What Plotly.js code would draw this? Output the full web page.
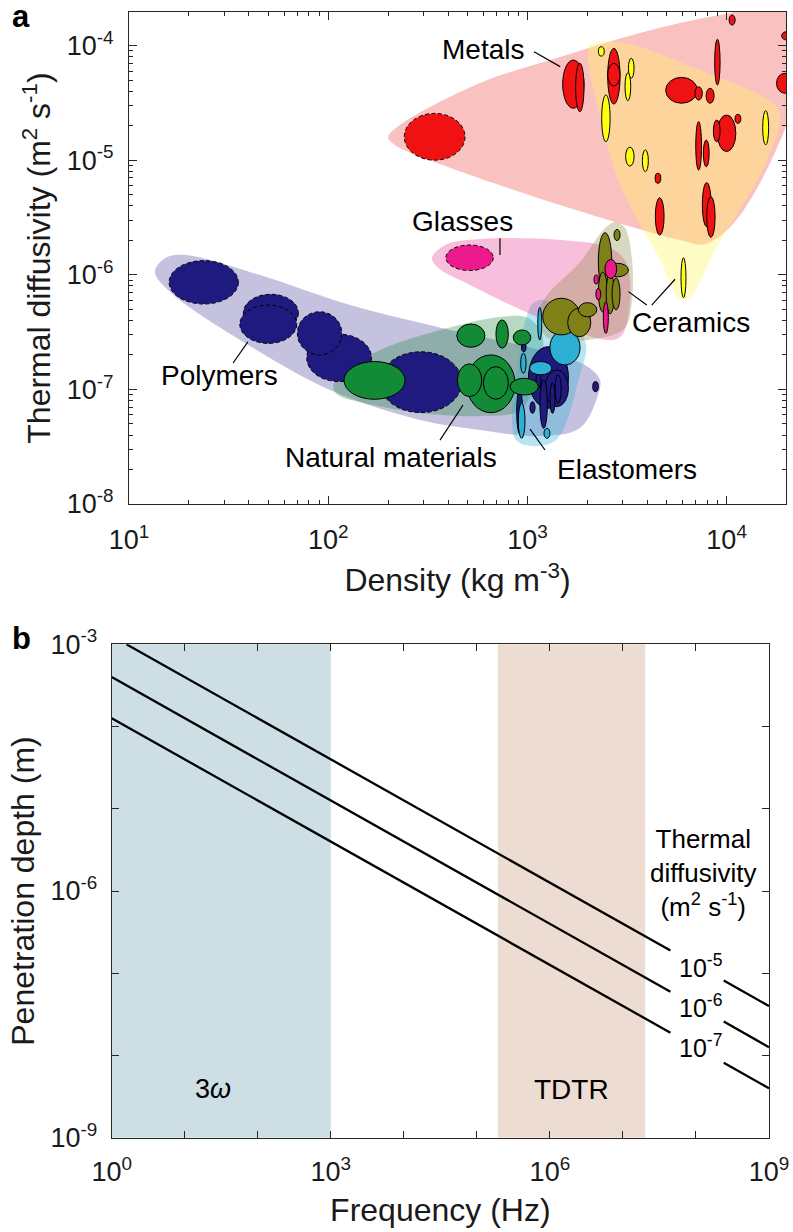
<!DOCTYPE html>
<html>
<head>
<meta charset="utf-8">
<script src="https://cdn.plot.ly/plotly-3.0.1.min.js"></script>
<style>html,body{margin:0;padding:0;background:#fff;}</style>
</head>
<body>
<div id="chart" style="width:793px;height:1232px;"></div>
<script>
// ---------- Panel a: thermal diffusivity vs density (material property ranges) ----------
// Each ellipse spans [low, high] density (kg m^-3) and [low, high] diffusivity (m^2 s^-1).

const polymerRho   = [[15.9,35.4],[37.5,70.8],[36,69.5],[78,165],[70,117],[182,468],
                      [1012,1607],[1225,1607],[2128,2270],[1156,1259],[883,946],[935,984],
                      [1030,1092],[1104,1170],[1297,1377],[1377,1476]];
const polymerAlpha = [[5.56e-7,1.33e-6],[3.19e-7,6.76e-7],[2.52e-7,5.44e-7],[1.17e-7,3.03e-7],[2.0e-7,4.76e-7],[6.27e-8,2.13e-7],
                      [6.84e-8,2.36e-7],[7.06e-8,1.48e-7],[9.55e-8,1.17e-7],[4.58e-8,1.21e-7],[4.14e-8,9.89e-8],[2.13e-7,2.56e-7],
                      [6.18e-8,7.82e-8],[1.03e-7,1.42e-7],[6.18e-8,1.14e-7],[7.6e-8,1.34e-7]];
const polymerFoam  = [true,true,true,true,true,true,false,false,false,false,false,false,false,false,false,false];

const naturalRho   = [[120,243],[442,612],[695,802],[849,1040],[495,867],[445,590],[601,802],[818,1135]];
const naturalAlpha = [[8.2e-8,1.75e-7],[2.33e-7,3.72e-7],[2.29e-7,4.04e-7],[2.44e-7,3.3e-7],[6.27e-8,2.0e-7],[8.65e-8,1.67e-7],[8.2e-8,1.58e-7],[8.93e-8,1.25e-7]];

const elastomerRho   = [[1297,1837],[1127,1180],[925,984],[1024,1325],[900,972],[1211,1297]];
const elastomerAlpha = [[1.63e-7,3.3e-7],[2.7e-7,5.2e-7],[1.38e-7,2.07e-7],[1.34e-7,1.75e-7],[3.74e-8,7.57e-8],[3.74e-8,4.58e-8]];

const techCeramicRho   = [[2270,2650],[2722,2917],[2500,3214],[2270,2518],[2483,2729],[2660,2917],[1194,1837],[1592,2080],[1803,2230]];
const techCeramicAlpha = [[7.26e-7,2.33e-6],[1.99e-6,2.49e-6],[9.6e-7,1.26e-6],[4.73e-7,1.06e-6],[4.55e-7,1.02e-6],[4.93e-7,9.4e-7],[2.99e-7,6.24e-7],[2.88e-7,5.11e-7],[4.3e-7,5.71e-7]];

const glassRho   = [[390,674],[2450,2806],[2160,2270],[2207,2333],[2404,2548]];
const glassAlpha = [[1.09e-6,1.82e-6],[9.3e-7,1.36e-6],[8.3e-7,9.95e-7],[6.03e-7,7.62e-7],[3.08e-7,5.82e-7]];
const glassFoam  = [true,false,false,false,false];

const metalRho   = [[241,486],[1503,1923],[1746,1923],[2529,2917],[2529,2917],[4943,7130],[6935,7550],[7890,8650],
                    [8710,9270],[10290,11030],[17800,21500],[18900,21000],[8980,11120],[8580,9270],[11020,11780],
                    [6998,7480],[7640,8170],[4375,4670],[4386,4853],[7550,8360],[7943,8750]];
const metalAlpha = [[1.0e-5,2.56e-5],[2.84e-5,7.48e-5],[2.65e-5,7.0e-5],[3.09e-5,9.46e-5],[4.44e-5,7.0e-5],[3.14e-5,5.28e-5],[3.35e-5,4.37e-5],[3.14e-5,4.24e-5],
                    [4.53e-5,1.135e-4],[1.51e-4,1.85e-4],[3.84e-5,5.73e-5],[1.12e-4,1.32e-4],[1.19e-5,2.48e-5],[1.45e-5,2.24e-5],[2.10e-5,2.51e-5],
                    [8.2e-6,2.17e-5],[8.77e-6,1.50e-5],[6.28e-6,7.69e-6],[2.22e-6,4.71e-6],[2.63e-6,6.37e-6],[2.12e-6,4.81e-6]];
const metalFoam  = [true];

const ceramicRho   = [[2270,2430],[2360,2600],[3214,3430],[3090,3300],[3113,3430],[3776,4045],[15170,16250],[5900,6250]];
const ceramicAlpha = [[8.1e-5,9.77e-5],[1.45e-5,3.71e-5],[5.19e-5,7.75e-5],[3.30e-5,5.81e-5],[8.89e-6,1.30e-5],[7.94e-6,1.23e-5],[1.36e-5,2.71e-5],[6.3e-7,1.41e-6]];

// Family envelopes (outline points, density / diffusivity)
const polymerHullRho   = [129,409,1157,1946,2314,2261,1837,1157,578,289,102,36.1,16.1,13.5,15.2,19.1,45.5];
const polymerHullAlpha = [5.44e-7,3.30e-7,2.21e-7,1.63e-7,1.21e-7,8.93e-8,4.61e-8,3.92e-8,4.43e-8,5.41e-8,9.89e-8,2.70e-7,7.08e-7,1.06e-6,1.40e-6,1.49e-6,9.95e-7];

const naturalHullRho   = [364,728,1007,1183,1157,918,578,289,144,112,106,129,182];
const naturalHullAlpha = [3.30e-7,4.29e-7,4.20e-7,2.99e-7,1.48e-7,6.61e-8,5.86e-8,6.22e-8,7.76e-8,8.93e-8,1.09e-7,1.54e-7,2.21e-7];

const elastomerHullRho   = [1734,1970,1837,1393,1031,877,837,918,995,1067,1225];
const elastomerHullAlpha = [3.65e-7,2.44e-7,1.34e-7,3.61e-8,3.21e-8,3.61e-8,5.41e-8,2.21e-7,4.46e-7,5.68e-7,6.03e-7];

const glassHullRho   = [1460,2600,3126,3273,2985,2600,1157,515,356,332,386,578];
const glassHullAlpha = [2.01e-6,1.71e-6,1.29e-6,6.03e-7,2.99e-7,2.70e-7,4.20e-7,8.15e-7,1.15e-6,1.40e-6,1.82e-6,2.05e-6];

const techCeramicHullRho   = [3350,3350,3090,2314,1268,1130,1225,1837,2453,2754,3090];
const techCeramicHullAlpha = [1.35e-6,6.03e-7,3.44e-7,2.81e-7,2.81e-7,4.20e-7,6.28e-7,1.29e-6,2.56e-6,2.89e-6,2.56e-6];

const metalHullRho   = [1460,3670,9270,23600,23600,11700,7800,5830,1460,324,216,200,229,578];
const metalHullAlpha = [7.96e-5,1.29e-4,1.85e-4,2.26e-4,5.01e-5,3.33e-6,1.86e-6,2.01e-6,4.06e-6,1.0e-5,1.36e-5,1.59e-5,2.03e-5,4.72e-5];

const ceramicHullRho   = [7350,17500,18530,15590,8750,6550,5834,4634,2917,2236,2014,2063,2917];
const ceramicHullAlpha = [6.12e-5,3.03e-5,2.24e-5,9.1e-6,1.64e-6,6.28e-7,6.03e-7,1.35e-6,6.07e-6,3.03e-5,7.48e-5,1.01e-4,1.07e-4];

// Family labels and their leader lines
const familyNames = ['Metals','Glasses','Ceramics','Polymers','Natural materials','Elastomers'];
const labelRho    = [599, 470, 6620, 28.3, 206.6, 3162];
const labelAlpha  = [9.33e-5, 2.89e-6, 3.87e-7, 1.31e-7, 2.52e-8, 2.02e-8];
const leaderRho   = [[1079,1460],[728,728],[3213,3972],[4207,5508],[33.3,39.5],[364,475],[1031,1225]];
const leaderAlpha = [[8.85e-5,6.55e-5],[2.08e-6,1.49e-6],[7.13e-7,5.44e-7],[5.44e-7,9.14e-7],[1.70e-7,2.6e-7],[3.61e-8,7.31e-8],[4.51e-8,2.96e-8]];

// ---------- Panel b: penetration depth vs frequency ----------
const diffusivityLabels = ['10<sup>-5</sup>','10<sup>-6</sup>','10<sup>-7</sup>'];
const lineFreq  = [[1.59,4.47e7,null,2.4e8,1e9],[1,4.47e7,null,2.4e8,1e9],[1,4.47e7,null,2.4e8,1e9]];
const lineDepth = [[1.0e-3,1.89e-7,null,8.15e-8,3.99e-8],[3.99e-4,5.97e-8,null,2.58e-8,1.26e-8],[1.26e-4,1.89e-8,null,8.15e-9,3.99e-9]];
const methodNames = ['3<i>ω</i>','TDTR'];
const methodBands = [[1,1e3],[1.94e5,2.02e7]];

// ---------- styling ----------
const FONT = 'Liberation Sans, Arial, Helvetica, sans-serif';
const INK = '#1a1a1a';

function ellipseShapes(rho, alpha, fill, foam) {
  return rho.map((r, i) => ({
    type: 'circle', xref: 'x', yref: 'y', layer: 'above',
    x0: r[0], x1: r[1], y0: alpha[i][0], y1: alpha[i][1],
    fillcolor: fill,
    line: {color: '#000', width: 1, dash: (foam && foam[i]) ? '4px,2.5px' : 'solid'}
  }));
}

function hullTrace(rho, alpha, color) {
  return {
    type: 'scatter', mode: 'lines', xaxis: 'x', yaxis: 'y',
    x: rho.concat([rho[0]]), y: alpha.concat([alpha[0]]),
    fill: 'toself', fillcolor: color,
    line: {width: 0, shape: 'spline', smoothing: 1, color: color},
    hoverinfo: 'skip', showlegend: false
  };
}

const traces = [
  hullTrace(polymerHullRho, polymerHullAlpha, 'rgba(40,30,140,0.27)'),
  hullTrace(naturalHullRho, naturalHullAlpha, 'rgba(20,130,50,0.30)'),
  hullTrace(elastomerHullRho, elastomerHullAlpha, 'rgba(40,175,215,0.33)'),
  hullTrace(glassHullRho, glassHullAlpha, 'rgba(235,60,150,0.33)'),
  hullTrace(techCeramicHullRho, techCeramicHullAlpha, 'rgba(128,128,50,0.30)'),
  hullTrace(metalHullRho, metalHullAlpha, 'rgba(242,100,100,0.40)'),
  hullTrace(ceramicHullRho, ceramicHullAlpha, 'rgba(255,250,90,0.35)')
];

lineFreq.forEach((f, i) => {
  traces.push({
    type: 'scatter', mode: 'lines', xaxis: 'x2', yaxis: 'y2',
    x: f, y: lineDepth[i], connectgaps: false,
    line: {color: '#000', width: 2.3},
    hoverinfo: 'skip', showlegend: false
  });
});

let shapes = [];
shapes = shapes.concat(ellipseShapes(polymerRho, polymerAlpha, '#1e1a7f', polymerFoam));
shapes = shapes.concat(ellipseShapes(naturalRho, naturalAlpha, '#138a36'));
shapes = shapes.concat(ellipseShapes(elastomerRho, elastomerAlpha, '#2cb0d5'));
shapes = shapes.concat(ellipseShapes(techCeramicRho, techCeramicAlpha, '#808019'));
shapes = shapes.concat(ellipseShapes(glassRho, glassAlpha, '#ec1a8c', glassFoam));
shapes = shapes.concat(ellipseShapes(metalRho, metalAlpha, '#f01212', metalFoam));
shapes = shapes.concat(ellipseShapes(ceramicRho, ceramicAlpha, '#ffff10'));

leaderRho.forEach((r, i) => {
  shapes.push({type: 'line', xref: 'x', yref: 'y', layer: 'above',
    x0: r[0], x1: r[1], y0: leaderAlpha[i][0], y1: leaderAlpha[i][1],
    line: {color: '#000', width: 1.2}});
});

const bandColors = ['#cddfe5', '#eddcd2'];
methodBands.forEach((b, i) => {
  shapes.push({type: 'rect', xref: 'x2', yref: 'y2 domain', layer: 'below',
    x0: b[0], x1: b[1], y0: 0, y1: 1, fillcolor: bandColors[i], line: {width: 0}});
});

// annotations
const annotations = [];
familyNames.forEach((name, i) => {
  annotations.push({xref: 'x', yref: 'y', x: Math.log10(labelRho[i]), y: Math.log10(labelAlpha[i]),
    text: name, showarrow: false, font: {family: FONT, size: 28, color: '#000'},
    xanchor: 'center', yanchor: 'middle'});
});
const methodPos = [[24.4, 3.9e-9],[2.0e6, 3.9e-9]];
const methodSize = [27, 28];
methodNames.forEach((m, i) => {
  annotations.push({xref: 'x2', yref: 'y2', x: Math.log10(methodPos[i][0]), y: Math.log10(methodPos[i][1]),
    text: m, showarrow: false, font: {family: FONT, size: methodSize[i], color: '#000'}, xanchor: 'center', yanchor: 'middle'});
});
annotations.push({xref: 'x2', yref: 'y2', x: 8.1, y: -5.78,
  text: 'Thermal<br>diffusivity<br>(m<sup>2</sup> s<sup>-1</sup>)', showarrow: false,
  font: {family: FONT, size: 26, color: '#000'}, xanchor: 'center', yanchor: 'middle', align: 'center'});
const diffLabelY = [-6.91, -7.40, -7.89];
diffusivityLabels.forEach((t, i) => {
  annotations.push({xref: 'x2', yref: 'y2', x: 8.06, y: diffLabelY[i], text: t, showarrow: false,
    font: {family: FONT, size: 25, color: '#000'}, xanchor: 'center', yanchor: 'middle'});
});
annotations.push({xref: 'paper', yref: 'paper', x: 21/793, y: 1 - 16/1232, text: '<b>a</b>', showarrow: false,
  font: {family: FONT, size: 31, color: '#000'}, xanchor: 'center', yanchor: 'middle'});
annotations.push({xref: 'paper', yref: 'paper', x: 21/793, y: 1 - 638/1232, text: '<b>b</b>', showarrow: false,
  font: {family: FONT, size: 31, color: '#000'}, xanchor: 'center', yanchor: 'middle'});

// tick setup
function decades(a, b, step) { const v = []; for (let p = a; p <= b; p += (step || 1)) v.push(Math.pow(10, p)); return v; }
function decadeLabels(a, b, step) { const t = []; for (let p = a; p <= b; p += (step || 1)) t.push('10<sup>' + p + '</sup>'); return t; }
function minorTicks(a, b, max) {
  const v = [];
  for (let p = a; p <= b; p++) for (let k = 2; k <= 9; k++) { const t = k * Math.pow(10, p); if (t <= max) v.push(t); }
  return v;
}
function unlabeledDecades(a, b, step) {
  const v = []; for (let p = a; p <= b; p++) if ((p - a) % step !== 0) v.push(Math.pow(10, p)); return v;
}

const axisBase = {
  type: 'log', showgrid: false, zeroline: false, showline: true, linecolor: '#262626', linewidth: 1,
  mirror: 'ticks', ticks: 'inside', ticklen: 8, tickwidth: 1, tickcolor: '#262626',
  tickfont: {family: FONT, size: 27, color: INK}, tickmode: 'array', automargin: false
};
const TITLE_FONT = {family: FONT, size: 32, color: INK};

const layout = {
  width: 793, height: 1232, margin: {l: 0, r: 0, t: 0, b: 0},
  paper_bgcolor: '#fff', plot_bgcolor: 'rgba(0,0,0,0)', hovermode: false, showlegend: false,
  xaxis: Object.assign({}, axisBase, {
    domain: [129/793, 786/793], anchor: 'y', range: [1, 4.298],
    tickvals: decades(1, 4), ticktext: decadeLabels(1, 4), ticklabelstandoff: 12,
    minor: {tickmode: 'array', tickvals: minorTicks(1, 4, 2e4), ticks: 'inside', ticklen: 4, tickcolor: '#262626', showgrid: false},
    title: {text: 'Density (kg m<sup>-3</sup>)', font: TITLE_FONT, standoff: 14}
  }),
  yaxis: Object.assign({}, axisBase, {
    domain: [1 - 504/1232, 1 - 12/1232], anchor: 'x', range: [-8, -3.707],
    tickvals: decades(-8, -4), ticktext: decadeLabels(-8, -4), ticklabelstandoff: 9,
    minor: {tickmode: 'array', tickvals: minorTicks(-8, -4, 1.96e-4), ticks: 'inside', ticklen: 4, tickcolor: '#262626', showgrid: false},
    title: {text: 'Thermal diffusivity (m<sup>2</sup> s<sup>-1</sup>)', font: TITLE_FONT, standoff: 6}
  }),
  xaxis2: Object.assign({}, axisBase, {
    domain: [111.7/793, 769/793], anchor: 'y2', range: [0, 9],
    tickvals: decades(0, 9, 3), ticktext: decadeLabels(0, 9, 3), ticklabelstandoff: 10, ticklen: 7,
    minor: {tickmode: 'array', tickvals: unlabeledDecades(0, 9, 3), ticks: 'inside', ticklen: 7, tickcolor: '#262626', showgrid: false},
    title: {text: 'Frequency (Hz)', font: TITLE_FONT, standoff: 12}
  }),
  yaxis2: Object.assign({}, axisBase, {
    domain: [1 - 1137.7/1232, 1 - 644.3/1232], anchor: 'x2', range: [-9, -3],
    tickvals: decades(-9, -3, 3), ticktext: decadeLabels(-9, -3, 3), ticklabelstandoff: 8, ticklen: 7,
    minor: {tickmode: 'array', tickvals: unlabeledDecades(-9, -3, 3), ticks: 'inside', ticklen: 7, tickcolor: '#262626', showgrid: false},
    title: {text: 'Penetration depth (m)', font: TITLE_FONT, standoff: 6}
  }),
  shapes: shapes,
  annotations: annotations
};

Plotly.newPlot('chart', traces, layout, {staticPlot: true, displayModeBar: false});
</script>
</body>
</html>
